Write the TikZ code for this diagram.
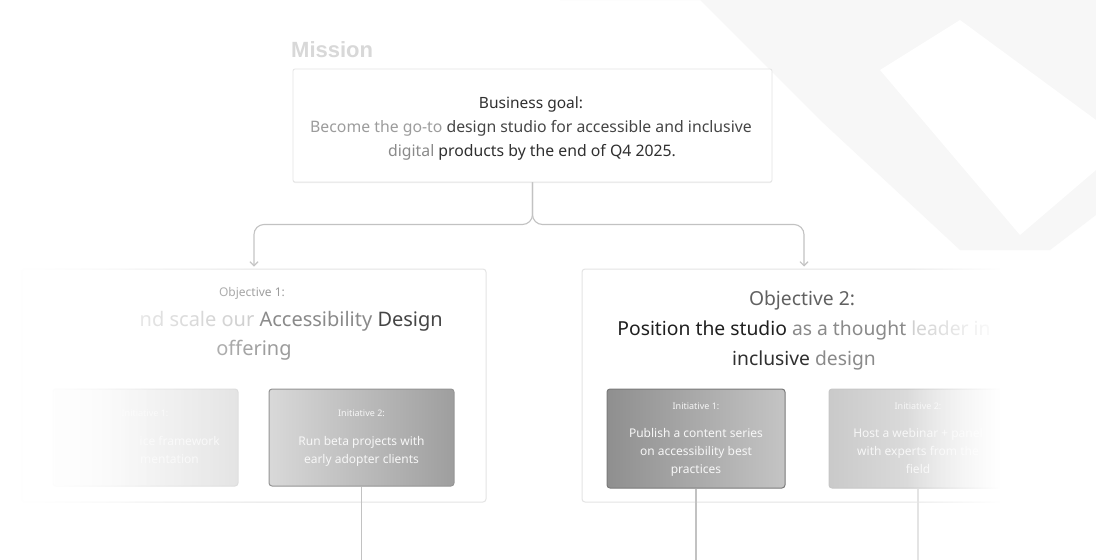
\documentclass[tikz,border=0pt]{standalone}
\usepackage{fontspec}
\setmainfont{Noto Sans}
\newfontfamily\missfont{Liberation Sans}
\usetikzlibrary{fadings,shadows,arrows.meta}
\definecolor{missc}{HTML}{D8D8D8}
\definecolor{dark}{HTML}{303030}
\definecolor{mid}{HTML}{8A8A8A}
\definecolor{light}{HTML}{9C9C9C}
\definecolor{pale}{HTML}{CCCCCC}
\definecolor{connc}{HTML}{C2C2C2}
\definecolor{boxline}{HTML}{E4E4E4}
\definecolor{inittext}{HTML}{F7F7F7}
\definecolor{bgshape}{HTML}{F7F7F7}
\tikzfading[name=fadeR, left color=transparent!0, right color=transparent!100]
\tikzfading[name=fadeL, left color=transparent!100, right color=transparent!0]
\tikzset{
  goalbox/.style={draw=boxline, fill=white, rounded corners=2pt, line width=0.8pt,
    drop shadow={shadow xshift=0pt, shadow yshift=-1pt, opacity=0.07, fill=black}},
  objbox/.style={draw=boxline, fill=white, rounded corners=3pt, line width=1pt},
  initbox/.style={rounded corners=3pt, line width=1pt},
  conn/.style={draw=connc, line width=1.1pt, rounded corners=10pt},
  arr/.style={-{Straight Barb[length=4pt,width=8pt]}},
  vline/.style={draw=connc, line width=1.1pt},
  txt/.style={inner sep=0pt, anchor=base},
  inilab/.style={txt, text=inittext, font=\fontsize{9}{10}\selectfont},
  initxt/.style={txt, text=inittext, font=\fontsize{12}{14}\selectfont},
}
\begin{document}
\begin{tikzpicture}[x=1pt,y=-1pt]
\useasboundingbox (0,0) rectangle (1096,560);
\fill[white] (0,0) rectangle (1096,560);
% faint background shapes
\fill[bgshape] (560,0) -- (1096,0) -- (1096,215) -- (1050,250) -- (960,250) -- (820,120) -- (700,0) -- cycle;
\fill[white] (880,70) -- (960,20) -- (1096,120) -- (1096,170) -- (1020,235) -- cycle;

% Mission
\node[txt, anchor=base west, text=missc, font=\missfont\bfseries\fontsize{22}{24}\selectfont] (mission) at (291,57) {Mission};

% Business goal
\node[goalbox, minimum width=479pt, minimum height=113pt, inner sep=0pt] (goal) at (532.5,125.5) {};
\node[txt, text=dark, font=\fontsize{15.5}{18}\selectfont] (gl1) at (531,108) {Business goal:};
\node[txt, font=\fontsize{15.8}{18}\selectfont] (gl2) at (531,132) {\textcolor{light}{Become the go-to} \textcolor{dark!90}{design studio for accessible and inclusive}};
\node[txt, font=\fontsize{15.8}{18}\selectfont] (gl3) at (532,156) {\textcolor{mid}{digital} \textcolor{dark}{products by the end of Q4 2025.}};

% Objective boxes
\node[objbox, minimum width=464pt, minimum height=233pt, inner sep=0pt] (obj1) at (254,385.5) {};
\node[objbox, minimum width=444pt, minimum height=233pt, inner sep=0pt] (obj2) at (804,385.5) {};

% connectors
\draw[conn, arr] (goal.south) |- ([yshift=44pt]obj1.north) -- ([yshift=2pt]obj1.north);
\draw[conn, arr] (goal.south) |- ([yshift=44pt]obj2.north) -- ([yshift=2pt]obj2.north);

% Objective 1 text
\node[txt, text=light, font=\fontsize{12}{14}\selectfont] (o1lab) at (252,296) {Objective 1:};
\node[txt, anchor=base east, font=\fontsize{20}{22}\selectfont] (o1t1) at (443,326) {\textcolor{pale}{nd scale our} \textcolor{mid}{Accessibility} \textcolor{dark!90}{Design}};
\node[txt, text=light, font=\fontsize{20}{22}\selectfont] (o1t2) at (254,355) {offering};

% Objective 2 text
\node[txt, text=black!62, font=\fontsize{19.3}{22}\selectfont] (o2lab) at (802,305) {Objective 2:};
\node[txt, font=\fontsize{19.3}{22}\selectfont] (o2t1) at (804,335) {\textcolor{black!88}{Position the studio} \textcolor{mid}{as a thought} \textcolor{pale}{leader in}};
\node[txt, font=\fontsize{19.3}{22}\selectfont] (o2t2) at (804,365) {\textcolor{dark}{inclusive} \textcolor{mid}{design}};

% Initiatives
\node[initbox, draw=black!15, left color=black!4, right color=black!12, minimum width=185pt, minimum height=97pt] (o1i1) at (145.5,437.5) {};
\node[initbox, draw=black!42, left color=black!15, right color=black!38, minimum width=185pt, minimum height=97pt] (o1i2) at (361.5,437.5) {};
\node[initbox, draw=black!52, left color=black!44, right color=black!23, minimum width=178pt, minimum height=99pt] (o2i1) at (696,438.5) {};
\node[initbox, draw=black!22, left color=black!21, right color=black!6, minimum width=178pt, minimum height=99pt] (o2i2) at (918,438.5) {};

\node[inilab] (o1i1l) at (145,416) {Initiative 1:};
\node[initxt, anchor=base east] (o1i1a) at (220,445) {ice framework};
\node[initxt, anchor=base east] (o1i1b) at (199,463) {mentation};

\node[inilab] (o1i2l) at (361.5,416) {Initiative 2:};
\node[initxt] (o1i2a) at (361.5,445) {Run beta projects with};
\node[initxt] (o1i2b) at (361.5,463) {early adopter clients};

\node[inilab] (o2i1l) at (696,409) {Initiative 1:};
\node[initxt] (o2i1a) at (696,437) {Publish a content series};
\node[initxt] (o2i1b) at (696,455) {on accessibility best};
\node[initxt] (o2i1c) at (696,473) {practices};

\node[inilab] (o2i2l) at (918,409) {Initiative 2:};
\node[initxt] (o2i2a) at (918,437) {Host a webinar + panel};
\node[initxt] (o2i2b) at (918,455) {with experts from the};
\node[initxt] (o2i2c) at (918,473) {field};

% lines downward
\coordinate (e1) at (361.5,560);
\coordinate (e2) at (696,560);
\coordinate (e3) at (918,560);
\draw[vline] (o1i2.south) -- (e1);
\draw[vline] (o2i1.south) -- (e2);
\draw[vline, draw=black!12] (o2i2.south) -- (e3);

% fades
\fill[white, path fading=fadeR] (0,232) rectangle (270,560);
\fill[white, path fading=fadeR] (0,232) rectangle (160,560);
\fill[white, path fading=fadeL] (905,262) rectangle (1000,560);
\fill[white] (1000,262) rectangle (1096,560);
\end{tikzpicture}
\end{document}
